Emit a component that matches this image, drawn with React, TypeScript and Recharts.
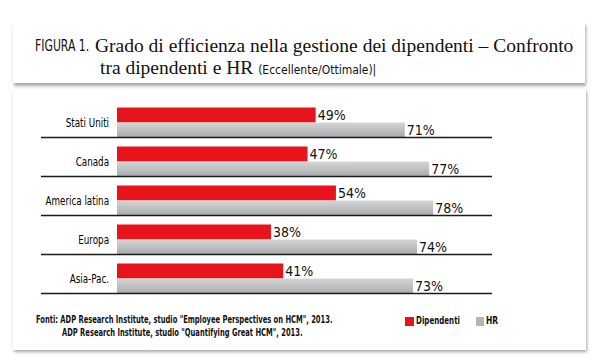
import { BarChart, Bar, XAxis, YAxis, LabelList } from 'recharts';

const regions = ['Stati Uniti', 'Canada', 'America latina', 'Europa', 'Asia-Pac.'];
const dipendenti = [49, 47, 54, 38, 41];
const hr = [71, 77, 78, 74, 73];

const data = regions.map((region, i) => ({ region, dipendenti: dipendenti[i], hr: hr[i] }));

const narrow = "'DejaVu Sans Condensed', 'Liberation Sans Narrow', sans-serif";
const serif = "'Liberation Serif', serif";

const RegionTick = (props: any) => {
  const { x, y, payload } = props;
  return (
    <g>
      <text
        transform={`translate(${x},${y + 4.5}) scale(0.78,1)`}
        textAnchor="end"
        fontSize={12.5}
        fontFamily={narrow}
        fill="#000"
      >
        {payload.value}
      </text>
      <line x1={41} x2={492} y1={y + 15.5} y2={y + 15.5} stroke="#1a1a1a" strokeWidth={1.4} />
    </g>
  );
};

const squeeze = (k: number): React.CSSProperties => ({
  display: 'inline-block',
  transform: `scaleX(${k})`,
  transformOrigin: 'left center',
  whiteSpace: 'nowrap',
});

export default function App() {
  return (
    <div style={{ position: 'absolute', left: 0, top: 0, width: 600, height: 360, background: '#fff', overflow: 'hidden', color: '#111' }}>
      {/* title box */}
      <div style={{ position: 'absolute', left: 13, top: 22, width: 572, height: 61, background: '#fff', boxShadow: '1px 3px 3px rgba(0,0,0,0.35)' }} />
      <div style={{ position: 'absolute', left: 35, top: 37, fontFamily: narrow, fontSize: 15.5 }}>
        <span style={squeeze(0.78)}>FIGURA 1.</span>
      </div>
      <div style={{ position: 'absolute', left: 95, top: 35, whiteSpace: 'nowrap', fontFamily: serif, fontSize: 19.5 }}>
        Grado di efficienza nella gestione dei dipendenti – Confronto
      </div>
      <div style={{ position: 'absolute', left: 100, top: 57, whiteSpace: 'nowrap' }}>
        <span style={{ fontFamily: serif, fontSize: 19.5 }}>tra dipendenti e HR </span>
        <span style={{ fontFamily: narrow, fontSize: 12 }}>(Eccellente/Ottimale)|</span>
      </div>

      {/* chart box */}
      <div style={{ position: 'absolute', left: 13, top: 89, width: 573, height: 261, background: '#fff', boxShadow: '1px 2px 3px rgba(0,0,0,0.35)' }} />
      <div style={{ position: 'absolute', left: 0, top: 0 }}>
        <BarChart
          width={600}
          height={360}
          data={data}
          layout="vertical"
          margin={{ top: 102.5, right: 110, left: 0, bottom: 62.5 }}
          barGap={0}
          barSize={15}
        >
          <defs>
            <linearGradient id="hrGrad" x1="0" y1="0" x2="0" y2="1">
              <stop offset="0%" stopColor="#d3d5d6" />
              <stop offset="100%" stopColor="#a9abad" />
            </linearGradient>
          </defs>
          <XAxis type="number" domain={[0, 92]} hide />
          <YAxis
            type="category"
            dataKey="region"
            width={117}
            axisLine={false}
            tickLine={false}
            tick={<RegionTick />}
            interval={0}
          />
          <Bar dataKey="dipendenti" fill="#e8141b" isAnimationActive={false}>
            <LabelList dataKey="dipendenti" position="right" offset={2} formatter={(v: any) => `${v}%`} fontSize={14} fontFamily={narrow} fill="#111" />
          </Bar>
          <Bar dataKey="hr" fill="url(#hrGrad)" isAnimationActive={false}>
            <LabelList dataKey="hr" position="right" offset={2} formatter={(v: any) => `${v}%`} fontSize={14} fontFamily={narrow} fill="#111" />
          </Bar>
        </BarChart>
      </div>

      {/* sources */}
      <div style={{ position: 'absolute', left: 36, top: 313, fontFamily: narrow, fontSize: 10, lineHeight: '13px', fontWeight: 600 }}>
        <div><span style={squeeze(0.75)}>Fonti: ADP Research Institute, studio "Employee Perspectives on HCM", 2013.</span></div>
        <div style={{ paddingLeft: 26 }}><span style={squeeze(0.75)}>ADP Research Institute, studio "Quantifying Great HCM", 2013.</span></div>
      </div>

      {/* legend */}
      <div style={{ position: 'absolute', left: 405, top: 317, width: 9, height: 9, background: '#e8141b' }} />
      <div style={{ position: 'absolute', left: 416, top: 314, fontFamily: narrow, fontSize: 10.5, fontWeight: 600 }}>
        <span style={squeeze(0.75)}>Dipendenti</span>
      </div>
      <div style={{ position: 'absolute', left: 476, top: 317, width: 8, height: 9, background: '#b3b5b7' }} />
      <div style={{ position: 'absolute', left: 486, top: 314, fontFamily: narrow, fontSize: 10.5, fontWeight: 600 }}>
        <span style={squeeze(0.8)}>HR</span>
      </div>
    </div>
  );
}
